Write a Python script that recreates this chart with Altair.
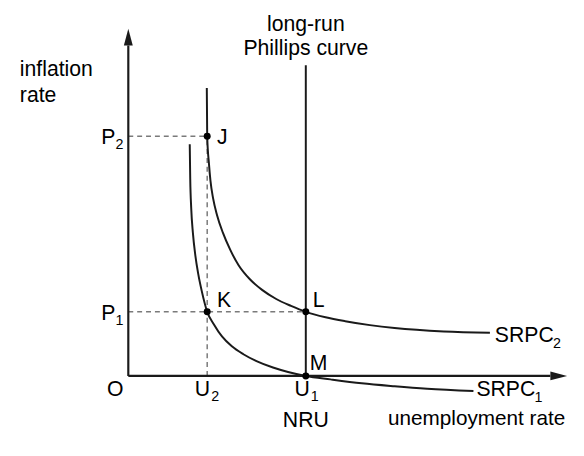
import altair as alt
import pandas as pd

# ---- values (unemployment rate, inflation rate) ----
U1 = 180          # natural rate of unemployment (NRU)
U2 = 80
P1 = 65
P2 = 243
X_MAX = 445       # end of the unemployment axis (arrow tip)
Y_MAX = 352       # end of the inflation axis (arrow tip)
LRPC_TOP = 315    # top of the long-run Phillips curve

srpc1_x = [62.3, 62.8, 63.8, 65.5, 68, 71, 74.5, 80, 87, 95, 105, 116.7, 130,
           146.7, 162, 180, 205, 236.7, 270, 303, 350]
srpc1_y = [235, 200, 170, 145, 122, 103, 86, 65, 52, 40, 30, 22, 15,
           8.5, 4, 0, -3.5, -7.5, -10.5, -13, -15.3]
srpc2_x = [79.6, 80, 81.8, 83.3, 86, 90, 96, 103.3, 112, 123.3, 136, 150, 165,
           180, 200, 220, 245, 270, 320, 366.7]
srpc2_y = [292, 243, 215, 198, 180, 163, 145, 128, 112, 98, 87, 78, 71,
           65, 59.5, 55.5, 51.5, 48.5, 45, 43.7]

point_names = ["J", "K", "L", "M"]
point_x = [U2, U2, U1, U1]
point_y = [P2, P1, P1, 0]

FONT = "Liberation Sans"
FS = 21.5
SUB = 14.5
INK = "#1a1a1a"

xs = alt.Scale(domain=[0, X_MAX], nice=False, zero=False)
ys = alt.Scale(domain=[0, Y_MAX], nice=False, zero=False)
X = lambda f: alt.X(f, type="quantitative", scale=xs, axis=None)
Y = lambda f: alt.Y(f, type="quantitative", scale=ys, axis=None)

curves = pd.concat([
    pd.DataFrame({"u": srpc1_x, "p": srpc1_y, "curve": "SRPC1", "i": range(len(srpc1_x))}),
    pd.DataFrame({"u": srpc2_x, "p": srpc2_y, "curve": "SRPC2", "i": range(len(srpc2_x))}),
])
pts = pd.DataFrame({"name": point_names, "u": point_x, "p": point_y})

dashes = pd.DataFrame({
    "u": [0, U2, 0], "p": [P2, 0, P1],
    "u2": [U2, U2, U1], "p2": [P2, P2, P1],
})
axes = pd.DataFrame({
    "u": [0, 0], "p": [0, 0],
    "u2": [0, X_MAX - 17], "p2": [Y_MAX - 17, 0],
})
lrpc = pd.DataFrame({"u": [U1], "p": [0], "u2": [U1], "p2": [LRPC_TOP]})

dash_layer = alt.Chart(dashes).mark_rule(
    color="#7a7a7a", strokeWidth=1.5, strokeDash=[5, 4]
).encode(x=X("u"), y=Y("p"), x2="u2", y2="p2")

curve_layer = alt.Chart(curves).mark_line(
    color=INK, strokeWidth=2, interpolate="monotone"
).encode(x=X("u"), y=Y("p"), detail="curve:N", order="i:Q")

axis_layer = alt.Chart(axes).mark_rule(color=INK, strokeWidth=2.2).encode(
    x=X("u"), y=Y("p"), x2="u2", y2="p2")
lrpc_layer = alt.Chart(lrpc).mark_rule(color=INK, strokeWidth=2).encode(
    x=X("u"), y=Y("p"), y2="p2")

arrow_up = alt.Chart(pd.DataFrame({"u": [0], "p": [Y_MAX]})).mark_point(
    shape="M0,0L-0.45,1.7L0.45,1.7Z", size=400, filled=True, color=INK, opacity=1
).encode(x=X("u"), y=Y("p"))
arrow_right = alt.Chart(pd.DataFrame({"u": [X_MAX], "p": [0]})).mark_point(
    shape="M0,0L-1.7,-0.45L-1.7,0.45Z", size=400, filled=True, color=INK, opacity=1
).encode(x=X("u"), y=Y("p"))

dots = alt.Chart(pts).mark_circle(size=50, color="#000", opacity=1).encode(
    x=X("u"), y=Y("p"))


def txt(u, p, text, dx, dy, align="left", size=FS, lh=None):
    kw = dict(align=align, baseline="alphabetic", dx=dx, dy=dy, fontSize=size,
              font=FONT, color="#000")
    if lh:
        kw["lineHeight"] = lh
        kw["lineBreak"] = "\n"
    return alt.Chart(pd.DataFrame({"u": [u], "p": [p], "t": [text]})).mark_text(**kw).encode(
        x=X("u"), y=Y("p"), text="t:N")


labels = [
    txt(0, Y_MAX, "inflation\nrate", -110, 48, lh=26),
    txt(U1, Y_MAX, "long-run\nPhillips curve", 0, 2, align="center", lh=25),
    # point labels
    txt(U2, P2, "J", 10, 8),
    txt(U2, P1, "K", 10, -5),
    txt(U1, P1, "L", 7, -5),
    txt(U1, 0, "M", 4, -6),
    # inflation ticks
    txt(0, P2, "P", -13, 8, align="right"),
    txt(0, P2, "2", -13, 13, size=SUB),
    txt(0, P1, "P", -13, 8, align="right"),
    txt(0, P1, "1", -13, 13, size=SUB),
    txt(0, 0, "O", -5, 20, align="right"),
    # unemployment ticks
    txt(U2, 0, "U", 3, 20, align="right"),
    txt(U2, 0, "2", 4, 25, size=SUB),
    txt(U1, 0, "U", 4, 20, align="right"),
    txt(U1, 0, "1", 5, 25, size=SUB),
    txt(U1, 0, "NRU", 0, 52, align="center"),
    txt(X_MAX, 0, "unemployment rate", -2, 50, align="right", size=21),
    # curve names
    txt(srpc2_x[-1], srpc2_y[-1], "SRPC", 5, 9),
    txt(srpc2_x[-1], srpc2_y[-1], "2", 64, 15, size=SUB),
    txt(srpc1_x[-1], srpc1_y[-1], "SRPC", 3, 5),
    txt(srpc1_x[-1], srpc1_y[-1], "1", 62, 11, size=SUB),
]

chart = alt.layer(
    dash_layer, curve_layer, axis_layer, lrpc_layer, arrow_up, arrow_right, dots, *labels
).properties(
    width=X_MAX, height=Y_MAX,
    autosize=alt.AutoSizeParams(type="none"),
    padding={"left": 122, "top": 18, "right": 9, "bottom": 70},
    background="white",
).configure_view(stroke=None)

chart.save("out.html", embed_options={"renderer": "svg", "actions": False})
